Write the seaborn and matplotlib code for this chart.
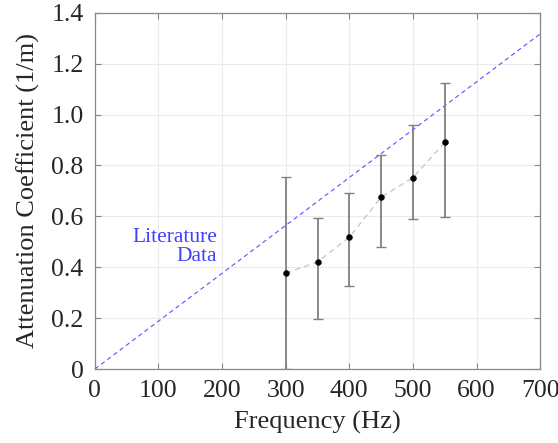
import numpy as np
import matplotlib
matplotlib.use("Agg")
import matplotlib.pyplot as plt
import pandas as pd
import seaborn as sns

# measured data
freq = [300, 350, 400, 450, 500, 550]
atten = [0.377, 0.421, 0.518, 0.675, 0.752, 0.891]
err_low = [0.0, 0.197, 0.325, 0.478, 0.589, 0.597]
err_high = [0.754, 0.593, 0.692, 0.840, 0.959, 1.123]

# literature line
lit_freq = [0, 700]
lit_atten = [0.0, 1.317]

df = pd.DataFrame({'Frequency': freq, 'Attenuation': atten})
lit = pd.DataFrame({'Frequency': lit_freq, 'Attenuation': lit_atten})

sns.set_style('whitegrid')
plt.rcParams['font.family'] = ['Liberation Serif', 'DejaVu Serif']

fig = plt.figure(figsize=(5.58, 4.43), dpi=100)
ax = fig.add_axes([0.170, 0.167, 0.798, 0.804])

sns.lineplot(data=lit, x='Frequency', y='Attenuation', ax=ax,
             color='#5555ff', linestyle=(0, (4, 3)), linewidth=0.8)
sns.lineplot(data=df, x='Frequency', y='Attenuation', ax=ax,
             color='#c8c8c8', linestyle=(0, (4, 3)), linewidth=1.0)

yerr = [np.array(atten) - np.array(err_low), np.array(err_high) - np.array(atten)]
ax.errorbar(freq, atten, yerr=yerr, fmt='none', ecolor='#808080',
            elinewidth=1.3, capsize=3.3, capthick=1.0)
sns.scatterplot(data=df, x='Frequency', y='Attenuation', ax=ax,
                color='black', s=18, zorder=5, edgecolor='black')

ax.text(192, 0.478, 'Literature\nData', color='#4040ff', fontsize=15.5,
        ha='right', va='center', multialignment='right', linespacing=1.0)

ax.set_xlim(0, 700)
ax.set_ylim(0, 1.4)
ax.set_xticks(range(0, 701, 100))
ax.set_yticks([0, 0.2, 0.4, 0.6, 0.8, 1.0, 1.2, 1.4])
ax.set_yticklabels(['0', '0.2', '0.4', '0.6', '0.8', '1.0', '1.2', '1.4'])
ax.grid(True, color='#ebebeb', linewidth=0.8)
for s in ax.spines.values():
    s.set_visible(True)
    s.set_color('#888888')
    s.set_linewidth(0.9)
ax.tick_params(direction='in', length=4, color='#888888', labelsize=18.5,
               top=True, right=True, bottom=True, left=True, pad=8)
ax.set_xlabel('Frequency (Hz)', fontsize=19, labelpad=6)
ax.set_ylabel('Attenuation Coefficient (1/m)', fontsize=19, labelpad=8)

plt.savefig('out.png', dpi=100)
